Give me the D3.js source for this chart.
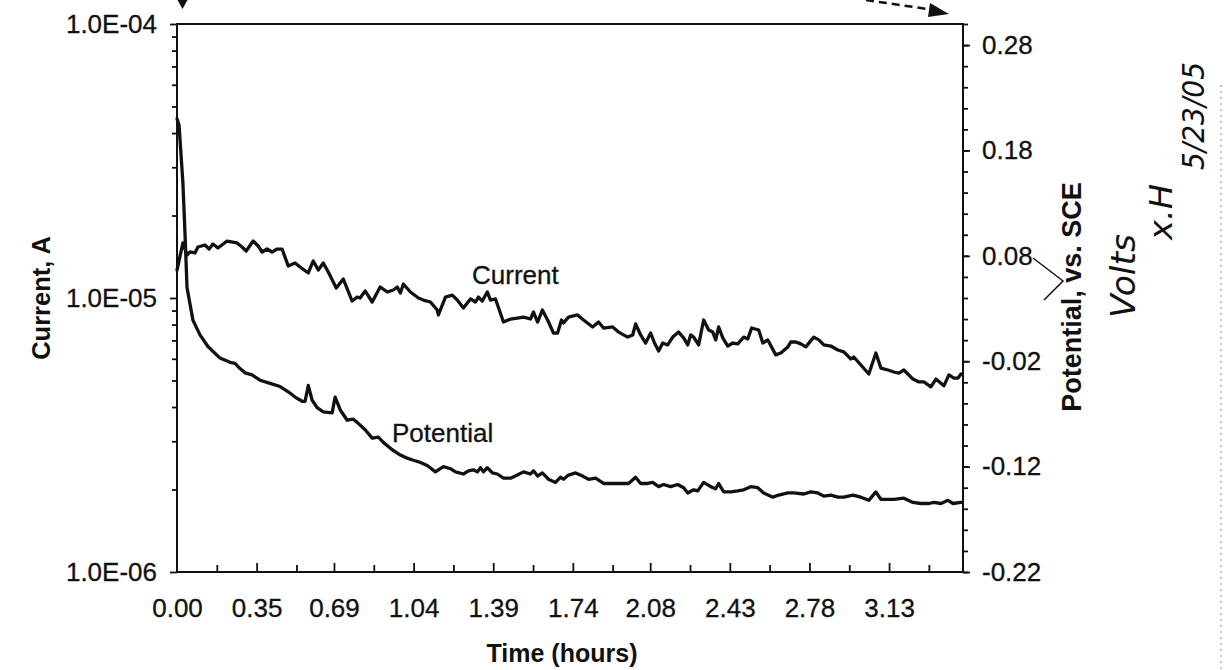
<!DOCTYPE html>
<html>
<head>
<meta charset="utf-8">
<script src="https://cdn.jsdelivr.net/npm/d3@7"></script>
<style>
  html, body { margin: 0; padding: 0; background: #fff; }
  svg { display: block; font-family: "Liberation Sans", Arial, Helvetica, sans-serif; }
</style>
</head>
<body>
<svg id="chart" width="1226" height="670"></svg>
<script>
// ---- Data -----------------------------------------------------------------
// Cell current (A) against elapsed time (hours)
const currentTime = [0.000,0.026,0.044,0.057,0.079,0.092,0.123,0.141,0.158,0.180,0.220,0.264,0.286,0.304,0.335,0.357,0.374,0.396,0.418,0.440,0.462,0.489,0.519,0.541,0.577,0.599,0.621,0.643,0.665,0.700,0.731,0.770,0.792,0.805,0.827,0.858,0.893,0.924,0.951,0.968,0.982,0.995,1.026,1.061,1.083,1.114,1.144,1.149,1.180,1.210,1.232,1.259,1.290,1.312,1.325,1.342,1.364,1.378,1.400,1.435,1.466,1.496,1.523,1.554,1.567,1.585,1.606,1.629,1.655,1.673,1.690,1.699,1.721,1.761,1.787,1.827,1.853,1.875,1.915,1.941,1.981,2.003,2.016,2.038,2.060,2.082,2.099,2.117,2.135,2.157,2.179,2.205,2.227,2.245,2.258,2.271,2.293,2.315,2.337,2.355,2.368,2.381,2.399,2.421,2.443,2.465,2.491,2.509,2.526,2.557,2.575,2.597,2.632,2.654,2.685,2.698,2.720,2.742,2.764,2.799,2.821,2.843,2.874,2.905,2.931,2.962,2.975,3.041,3.072,3.094,3.125,3.151,3.173,3.195,3.235,3.261,3.283,3.314,3.336,3.371,3.393,3.415,3.433,3.446];
const currentAmps = [1.265e-5,1.588e-5,1.435e-5,1.472e-5,1.460e-5,1.535e-5,1.561e-5,1.509e-5,1.574e-5,1.522e-5,1.614e-5,1.588e-5,1.535e-5,1.484e-5,1.614e-5,1.548e-5,1.472e-5,1.509e-5,1.472e-5,1.509e-5,1.509e-5,1.309e-5,1.342e-5,1.298e-5,1.234e-5,1.365e-5,1.265e-5,1.342e-5,1.244e-5,1.088e-5,1.173e-5,0.975e-5,1.008e-5,1.000e-5,1.061e-5,0.967e-5,1.097e-5,1.052e-5,1.070e-5,1.097e-5,1.043e-5,1.125e-5,1.052e-5,1.000e-5,0.983e-5,0.967e-5,0.904e-5,0.867e-5,1.008e-5,1.025e-5,0.983e-5,0.919e-5,0.992e-5,0.967e-5,1.008e-5,0.975e-5,1.052e-5,0.983e-5,0.992e-5,0.817e-5,0.838e-5,0.845e-5,0.852e-5,0.838e-5,0.889e-5,0.817e-5,0.904e-5,0.831e-5,0.745e-5,0.745e-5,0.831e-5,0.811e-5,0.852e-5,0.867e-5,0.831e-5,0.784e-5,0.817e-5,0.777e-5,0.784e-5,0.751e-5,0.720e-5,0.733e-5,0.804e-5,0.733e-5,0.685e-5,0.745e-5,0.685e-5,0.641e-5,0.685e-5,0.674e-5,0.720e-5,0.751e-5,0.715e-5,0.674e-5,0.733e-5,0.720e-5,0.674e-5,0.831e-5,0.764e-5,0.751e-5,0.703e-5,0.784e-5,0.715e-5,0.668e-5,0.685e-5,0.680e-5,0.720e-5,0.709e-5,0.777e-5,0.764e-5,0.685e-5,0.703e-5,0.620e-5,0.630e-5,0.663e-5,0.691e-5,0.691e-5,0.680e-5,0.663e-5,0.720e-5,0.703e-5,0.674e-5,0.668e-5,0.646e-5,0.636e-5,0.599e-5,0.609e-5,0.528e-5,0.630e-5,0.555e-5,0.546e-5,0.537e-5,0.532e-5,0.546e-5,0.506e-5,0.494e-5,0.494e-5,0.474e-5,0.506e-5,0.478e-5,0.524e-5,0.510e-5,0.510e-5,0.528e-5];

// Electrode potential (V vs. SCE) against elapsed time (hours)
const potentialTime = [0.000,0.009,0.026,0.035,0.044,0.070,0.101,0.136,0.189,0.233,0.255,0.277,0.299,0.330,0.365,0.409,0.453,0.489,0.519,0.550,0.563,0.577,0.594,0.616,0.643,0.682,0.695,0.717,0.748,0.775,0.792,0.827,0.858,0.885,0.907,0.946,0.982,1.012,1.039,1.070,1.100,1.136,1.171,1.202,1.224,1.259,1.281,1.303,1.320,1.334,1.347,1.364,1.386,1.408,1.435,1.466,1.496,1.523,1.554,1.567,1.585,1.606,1.633,1.664,1.686,1.699,1.721,1.752,1.783,1.809,1.840,1.875,1.915,1.950,1.985,2.016,2.038,2.069,2.091,2.117,2.139,2.170,2.201,2.227,2.245,2.271,2.289,2.315,2.346,2.368,2.381,2.403,2.434,2.465,2.491,2.522,2.553,2.579,2.619,2.645,2.685,2.711,2.755,2.786,2.817,2.843,2.874,2.905,2.931,2.971,3.006,3.041,3.072,3.094,3.125,3.151,3.195,3.235,3.270,3.305,3.327,3.358,3.389,3.411,3.446];
const potentialVolts = [0.210,0.204,0.149,0.102,0.050,0.019,0.005,-0.006,-0.017,-0.021,-0.022,-0.027,-0.031,-0.033,-0.038,-0.041,-0.044,-0.049,-0.054,-0.058,-0.058,-0.043,-0.057,-0.064,-0.068,-0.069,-0.054,-0.066,-0.076,-0.075,-0.078,-0.085,-0.093,-0.092,-0.097,-0.104,-0.109,-0.112,-0.114,-0.116,-0.119,-0.125,-0.120,-0.122,-0.125,-0.127,-0.124,-0.123,-0.125,-0.121,-0.125,-0.121,-0.126,-0.127,-0.131,-0.131,-0.128,-0.125,-0.127,-0.124,-0.129,-0.126,-0.132,-0.135,-0.130,-0.132,-0.128,-0.126,-0.129,-0.132,-0.131,-0.136,-0.136,-0.136,-0.136,-0.130,-0.136,-0.136,-0.135,-0.139,-0.137,-0.139,-0.137,-0.140,-0.145,-0.142,-0.143,-0.135,-0.139,-0.141,-0.136,-0.144,-0.144,-0.143,-0.142,-0.139,-0.140,-0.145,-0.149,-0.147,-0.145,-0.145,-0.146,-0.144,-0.145,-0.148,-0.147,-0.149,-0.149,-0.147,-0.149,-0.152,-0.144,-0.151,-0.151,-0.151,-0.150,-0.154,-0.155,-0.155,-0.154,-0.155,-0.152,-0.155,-0.154];

// Axis tick labels
const timeTickLabels = ["0.00","0.35","0.69","1.04","1.39","1.74","2.08","2.43","2.78","3.13"];
const currentTickValues = [1e-4, 1e-5, 1e-6];
const currentTickLabels = ["1.0E-04", "1.0E-05", "1.0E-06"];
const potentialTickValues = [0.28, 0.18, 0.08, -0.02, -0.12, -0.22];

// ---- Layout ---------------------------------------------------------------
const svg = d3.select("#chart");
const plot = { left: 177, right: 963, top: 24, bottom: 572 };
const INK = "#111";
const TICK_FONT = 26;

const x = d3.scaleLinear().domain([0, 3.455]).range([plot.left, plot.right]);
const yCur = d3.scaleLog().domain([1e-6, 1e-4]).range([plot.bottom, plot.top]);
const yPot = d3.scaleLinear().domain([-0.22, 0.30]).range([plot.bottom, plot.top]);

function styleAxis(g) {
  g.select(".domain").remove();
  g.selectAll(".tick line").attr("stroke", INK).attr("stroke-width", 1.8);
  g.selectAll(".tick text").attr("fill", INK).attr("font-size", TICK_FONT)
    .attr("stroke", INK).attr("stroke-width", 0.3)
    .attr("font-family", "'Liberation Sans', Arial, sans-serif");
}

// Left (log current) axis: minor ticks then labelled decades
const minorCur = [];
[1e-6, 1e-5].forEach(dec => { for (let k = 2; k <= 9; k++) minorCur.push(k * dec); });
svg.append("g").attr("transform", `translate(${plot.left},0)`)
  .call(d3.axisLeft(yCur).tickValues(minorCur).tickSize(5).tickFormat(""))
  .call(styleAxis);
svg.append("g").attr("transform", `translate(${plot.left},0)`)
  .call(d3.axisLeft(yCur).tickValues(currentTickValues).tickSize(7).tickPadding(13)
    .tickFormat((d, i) => currentTickLabels[i]))
  .call(styleAxis);

// Right (potential) axis
const minorPot = d3.range(0, 27).map(i => +(-0.22 + i * 0.02).toFixed(2));
svg.append("g").attr("transform", `translate(${plot.right},0)`)
  .call(d3.axisRight(yPot).tickValues(minorPot).tickSize(5).tickFormat(""))
  .call(styleAxis);
svg.append("g").attr("transform", `translate(${plot.right},0)`)
  .call(d3.axisRight(yPot).tickValues(potentialTickValues).tickSize(7).tickPadding(12)
    .tickFormat(d => d.toFixed(2)))
  .call(styleAxis);

// Bottom (time) axis, ticks pointing into the plot
const timeTicks = timeTickLabels.map(Number);
const step = timeTicks[1] - timeTicks[0];
const minorTime = timeTicks.map(t => t + step / 2).filter(t => t < x.domain()[1]);
svg.append("g").attr("transform", `translate(0,${plot.bottom})`)
  .call(d3.axisBottom(x).tickValues(minorTime).tickSize(-7).tickFormat(""))
  .call(styleAxis);
svg.append("g").attr("transform", `translate(0,${plot.bottom})`)
  .call(d3.axisBottom(x).tickValues(timeTicks.slice(1)).tickSize(-9).tickFormat(""))
  .call(styleAxis);
svg.append("g").attr("transform", `translate(0,${plot.bottom})`)
  .call(d3.axisBottom(x).tickValues(timeTicks).tickSize(0).tickPadding(27)
    .tickFormat((d, i) => timeTickLabels[i]))
  .call(styleAxis);

// Plot frame
svg.append("rect")
  .attr("x", plot.left).attr("y", plot.top)
  .attr("width", plot.right - plot.left).attr("height", plot.bottom - plot.top)
  .attr("fill", "none").attr("stroke", INK).attr("stroke-width", 2);

// ---- Series ---------------------------------------------------------------
const currentLine = d3.line()
  .x((d, i) => x(currentTime[i]))
  .y(d => yCur(d));
const potentialLine = d3.line()
  .x((d, i) => x(potentialTime[i]))
  .y(d => yPot(d));

svg.append("path").datum(currentAmps)
  .attr("d", currentLine)
  .attr("fill", "none").attr("stroke", INK).attr("stroke-width", 3.3)
  .attr("stroke-linejoin", "round").attr("stroke-linecap", "round");

svg.append("path").datum(potentialVolts)
  .attr("d", potentialLine)
  .attr("fill", "none").attr("stroke", INK).attr("stroke-width", 3.3)
  .attr("stroke-linejoin", "round").attr("stroke-linecap", "round");

// Series labels
svg.append("text").attr("x", 472).attr("y", 284)
  .attr("font-size", 26).attr("fill", INK).attr("stroke", INK).attr("stroke-width", 0.3)
  .text("Current");
svg.append("text").attr("x", 392).attr("y", 442)
  .attr("font-size", 26).attr("fill", INK).attr("stroke", INK).attr("stroke-width", 0.3)
  .text("Potential");

// ---- Axis titles ----------------------------------------------------------
svg.append("text")
  .attr("transform", "translate(50,298) rotate(-90)")
  .attr("text-anchor", "middle").attr("font-size", 25.5).attr("font-weight", "bold")
  .attr("fill", INK).text("Current, A");
svg.append("text")
  .attr("x", 562).attr("y", 662)
  .attr("text-anchor", "middle").attr("font-size", 25).attr("font-weight", "bold")
  .attr("fill", INK).text("Time (hours)");
svg.append("text")
  .attr("transform", "translate(1081,297) rotate(-90)")
  .attr("text-anchor", "middle").attr("font-size", 27).attr("font-weight", "bold")
  .attr("fill", INK).text("Potential, vs. SCE");

// ---- Pen annotations on the printout --------------------------------------
// down-pointing arrowhead at the top of the left axis
svg.append("path").attr("d", "M177.5,0 L187.5,0 L182.5,9 Z").attr("fill", INK);
// dashed arrow towards the top of the right axis
svg.append("path").attr("d", "M866,0 L934,10")
  .attr("stroke", INK).attr("stroke-width", 2.5).attr("stroke-dasharray", "8,5").attr("fill", "none");
svg.append("path").attr("d", "M949,14 L930,3 L928,17 Z").attr("fill", INK);
// insertion caret between "Potential," and "vs."
svg.append("path").attr("d", "M1033,258 L1063,281 L1044,300")
  .attr("stroke", INK).attr("stroke-width", 1.5).attr("fill", "none");

const hand = "'DejaVu Sans', sans-serif";
function handText(cx, cy, len, size, str) {
  svg.append("text")
    .attr("transform", `translate(${cx},${cy}) rotate(-90)`)
    .attr("text-anchor", "middle").attr("font-family", hand)
    .attr("font-style", "italic").attr("font-weight", 200)
    .attr("font-size", size).attr("fill", INK)
    .attr("textLength", len).attr("lengthAdjust", "spacingAndGlyphs")
    .text(str);
}
handText(1135, 276, 84, 34, "Volts");
handText(1172, 212, 56, 32, "x.H");
handText(1204, 116, 108, 30, "5/23/05");

// edge of the scanned page
svg.append("line").attr("x1", 1221).attr("x2", 1221).attr("y1", 85).attr("y2", 670)
  .attr("stroke", "#888").attr("stroke-width", 1).attr("stroke-dasharray", "2,4");
</script>
</body>
</html>
